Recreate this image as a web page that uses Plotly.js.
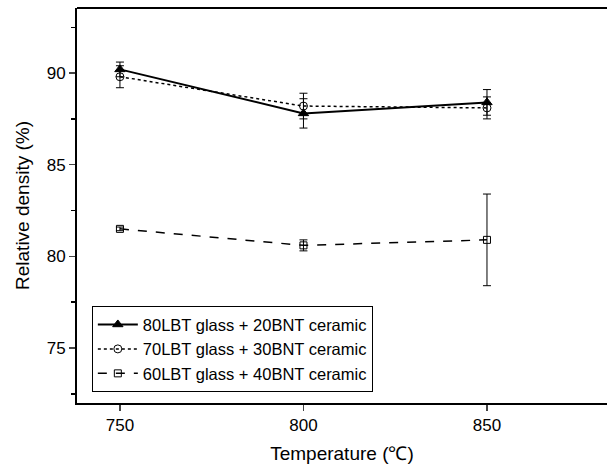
<!DOCTYPE html>
<html><head><meta charset="utf-8">
<script src="https://cdn.plot.ly/plotly-3.0.1.min.js"></script>
<style>html,body{margin:0;padding:0;background:#fff;overflow:hidden}</style>
</head><body><div id="chart" style="width:607px;height:471px"></div>
<script>
const temps = [750, 800, 850];
const names = ["80LBT glass + 20BNT ceramic", "70LBT glass + 30BNT ceramic", "60LBT glass + 40BNT ceramic"];
const dens80 = [90.2, 87.8, 88.4];
const err80 = [0.4, 0.8, 0.7];
const dens70 = [89.8, 88.2, 88.1];
const err70 = [0.6, 0.7, 0.6];
const dens60 = [81.5, 80.6, 80.9];
const err60 = [0.1, 0.3, 2.5];

const font = "Liberation Sans, Arial, sans-serif";
function mk(y, e, name, dash, width, symbol, size) {
  return {
    x: temps, y: y, name: name, type: "scatter", mode: "lines+markers",
    line: {color: "black", dash: dash, width: width},
    marker: {symbol: symbol, size: size, color: "black", line: {color: "black", width: 1}},
    error_y: {type: "data", array: e, visible: true, color: "black", thickness: 1, width: 4}
  };
}
const data = [
  mk(dens80, err80, names[0], "solid", 2, "triangle-up", 9),
  mk(dens70, err70, names[1], "dot", 1.5, "circle-open", 8),
  mk(dens60, err60, names[2], "dash", 1.5, "square-open", 7)
];
const layout = {
  width: 607, height: 471,
  margin: {l: 77, r: 0, t: 8, b: 68},
  paper_bgcolor: "white", plot_bgcolor: "white",
  font: {family: font, size: 17, color: "black"},
  showlegend: true,
  legend: {x: 0.028, y: 0.245, xanchor: "left", yanchor: "top", bordercolor: "black", borderwidth: 1,
           bgcolor: "white", font: {size: 16.5, family: font}, tracegroupgap: 0, itemwidth: 40},
  shapes: [{type: "line", xref: "paper", yref: "paper", x0: 0, x1: 1, y0: 1, y1: 1,
            line: {color: "black", width: 2}}],
  xaxis: {range: [738.3, 882.7], tickvals: temps, ticks: "outside", ticklen: 6, tickwidth: 1.5,
          showline: true, linewidth: 2, linecolor: "black", mirror: false, showgrid: false, zeroline: false,
          title: {text: "Temperature (℃)", font: {size: 19}, standoff: 12}},
  yaxis: {range: [72.0, 93.55], tickvals: [75, 80, 85, 90], ticks: "outside", ticklen: 6, tickwidth: 1.5,
          showline: true, linewidth: 2, linecolor: "black", mirror: false, showgrid: false, zeroline: false,
          minor: {tickvals: [72.5, 77.5, 82.5, 87.5, 92.5], ticks: "outside", ticklen: 4, tickcolor: "black"},
          title: {text: "Relative density (%)", font: {size: 19}, standoff: 12}}
};
Plotly.newPlot("chart", data, layout, {displayModeBar: false, staticPlot: true});
</script></body></html>
